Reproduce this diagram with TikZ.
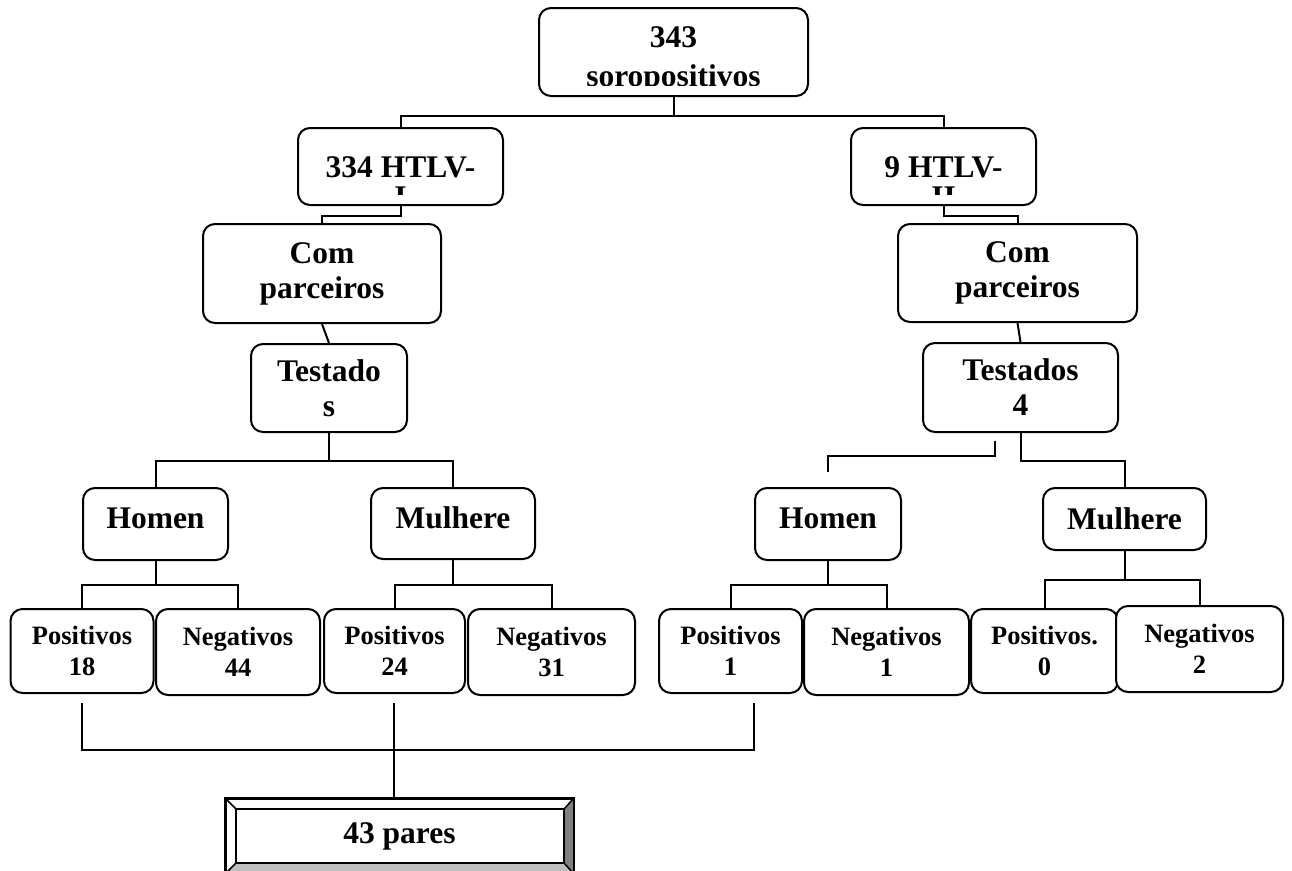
\documentclass[tikz,border=0pt]{standalone}
\usepackage{fontspec}
\setmainfont{Liberation Serif}
\usetikzlibrary{positioning}
\tikzset{
  wire/.style = {line width=2pt},
  bx/.style   = {draw, line width=2pt, fill=white, rounded corners=12pt,
                 inner sep=0pt, align=center,
                 font=\bfseries\fontsize{31.5}{35}\selectfont},
  hbx/.style  = {bx, text depth=12pt},
  sbx/.style  = {bx, font=\bfseries\fontsize{26.5}{31}\selectfont},
  txt/.style  = {inner sep=0pt, align=center,
                 font=\bfseries\fontsize{31.5}{35}\selectfont},
}

\begin{document}
\begin{tikzpicture}[x=1pt, y=-1pt]
  \useasboundingbox (0,0) rectangle (1292,870);
  % top
  \node[bx, minimum width=269pt, minimum height=88pt] (top) at (673.5,52) {};
  \begin{scope}
    \clip (540,9) rectangle (807,85);
    \node[txt, font=\bfseries\fontsize{31.5}{39}\selectfont, anchor=north]
      (topt) at (673.5,26) {343\\soropositivos};
  \end{scope}
  % HTLV boxes
  \node[bx, minimum width=205pt, minimum height=77pt] (htlvI) at (400.5,166.5) {};
  \begin{scope}
    \clip (299,129) rectangle (502,194);
    \node[txt, font=\bfseries\fontsize{31.5}{30}\selectfont, anchor=north]
      (htlvIt) at (400.5,156) {334 HTLV-\\I};
  \end{scope}
  \node[bx, minimum width=185pt, minimum height=77pt] (htlvII) at (943.5,166.5) {};
  \begin{scope}
    \clip (852,129) rectangle (1035,194);
    \node[txt, font=\bfseries\fontsize{31.5}{30}\selectfont, anchor=north]
      (htlvIIt) at (943.5,156) {9 HTLV-\\II};
  \end{scope}
  % partners / tested
  \node[bx, minimum width=238pt, minimum height=99pt] (comL) at (322,273.5) {Com\\parceiros};
  \node[bx, minimum width=239pt, minimum height=98pt] (comR) at (1017.5,273) {Com\\parceiros};
  \node[bx, minimum width=156pt, minimum height=88pt] (tesL) at (329,388) {Testado\\s};
  \node[bx, minimum width=195pt, minimum height=89pt] (tesR) at (1020.5,387.5) {Testados\\4};
  % sex
  \node[hbx, minimum width=145pt, minimum height=72pt] (homL) at (155.5,524) {Homen};
  \node[hbx, minimum width=164pt, minimum height=71pt] (mulL) at (453,523.5) {Mulhere};
  \node[hbx, minimum width=146pt, minimum height=72pt] (homR) at (828,524) {Homen};
  \node[bx, minimum width=163pt, minimum height=62pt] (mulR) at (1124.5,519) {Mulhere};
  % results
  \node[sbx, minimum width=143pt, minimum height=84pt] (p18) at (82,651) {Positivos\\18};
  \node[sbx, minimum width=164pt, minimum height=86pt] (n44) at (238,652) {Negativos\\44};
  \node[sbx, minimum width=141pt, minimum height=84pt] (p24) at (394.5,651) {Positivos\\24};
  \node[sbx, minimum width=167pt, minimum height=86pt] (n31) at (551.5,652) {Negativos\\31};
  \node[sbx, minimum width=143pt, minimum height=84pt] (p1) at (730.5,651) {Positivos\\1};
  \node[sbx, minimum width=165pt, minimum height=86pt] (n1) at (886.5,652) {Negativos\\1};
  \node[sbx, minimum width=147pt, minimum height=84pt] (p0) at (1044.5,651) {Positivos.\\0};
  \node[sbx, minimum width=167pt, minimum height=86pt] (n2) at (1199.5,649) {Negativos\\2};
  % pairs
  \coordinate (pi1) at (236,809);
  \coordinate (pi2) at (564,809);
  \coordinate (pi3) at (564,863);
  \coordinate (pi4) at (236,863);
  \node[draw, line width=2pt, minimum width=347pt, minimum height=74pt, inner sep=0pt,
        font=\bfseries\fontsize{31.5}{35}\selectfont] (pares) at (399.5,836) {43 pares};
  \fill[black!50] (pares.north east) -- (pares.south east) -- (pi3) -- (pi2) -- cycle;
  \fill[black!25] (pares.south west) -- (pares.south east) -- (pi3) -- (pi4) -- cycle;
  \draw[wire] (pares.north west) rectangle (pares.south east);
  \draw[line width=1.5pt] (pi1) rectangle (pi3);
  \draw[line width=1.5pt] (pares.north west) -- (pi1) (pares.north east) -- (pi2)
    (pares.south east) -- (pi3) (pares.south west) -- (pi4);
  % connectors
  \draw[wire] (top.south) -- ++(0,19) coordinate (jT) -| (htlvI);
  \draw[wire] (jT) -| (htlvII);
  \draw[wire] (htlvI.south) -- ++(0,10) -| (comL);
  \draw[wire] (htlvII.south) -- ++(0,10) -| (comR);
  \draw[wire] (comL.south) -- (tesL.north);
  \draw[wire] (comR.south) -- (tesR.north);
  \draw[wire] (tesL.south) -- ++(0,28) coordinate (jL) -| (homL);
  \draw[wire] (jL) -| (mulL);
  \coordinate (a1) at (995,441);
  \coordinate (a2) at (828,472);
  \draw[wire] (a1) -- ++(0,15) -| (a2);
  \draw[wire] (tesR.south) -- ++(0,28) -| (mulR);
  \draw[wire] (homL.south) -- ++(0,24) coordinate (jH1) -| (p18);
  \draw[wire] (jH1) -| (n44);
  \draw[wire] (mulL.south) -- ++(0,25) coordinate (jM1) -| (p24);
  \draw[wire] (jM1) -| (n31);
  \draw[wire] (homR.south) -- ++(0,24) coordinate (jH2) -| (p1);
  \draw[wire] (jH2) -| (n1);
  \draw[wire] (mulR.south) -- ++(0,29) coordinate (jM2) -| (p0);
  \draw[wire] (jM2) -| (n2);
  \coordinate (b1) at (82,703);
  \coordinate (b2) at (394,703);
  \coordinate (b3) at (754,703);
  \draw[wire] (b1) -- ++(0,47) -| (b3);
  \draw[wire] (b2) -- (b2 |- pares.north);
\end{tikzpicture}
\end{document}
